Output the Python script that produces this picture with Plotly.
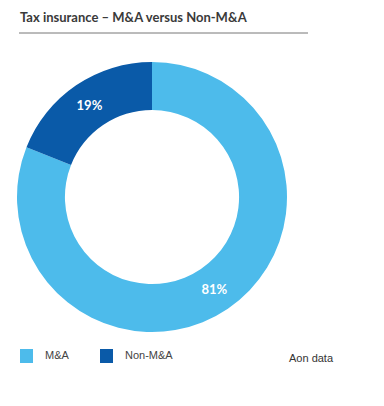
import plotly.graph_objects as go

categories = ["M&A", "Non-M&A"]
values = [81, 19]
colors = ["#4DBBEB", "#0A5AA8"]
title_text = "Tax insurance – M&A versus Non-M&A"
source_text = "Aon data"

W, H = 384, 406

def px_x(x):
    return x / W

def px_y(y):
    return 1 - y / H

fig = go.Figure(go.Pie(
    labels=categories,
    values=values,
    hole=0.645,
    sort=False,
    direction="clockwise",
    rotation=0,
    marker=dict(colors=colors, line=dict(width=0)),
    texttemplate="<b>%{value}%</b>",
    textposition="inside",
    insidetextorientation="horizontal",
    textfont=dict(family="Lato", size=13, color="white"),
    hoverinfo="label+percent",
    showlegend=False,
    domain=dict(x=[px_x(17), px_x(287)], y=[px_y(332), px_y(62)]),
))

annotations = [
    dict(text="<b>" + title_text + "</b>",
         x=px_x(18), y=px_y(17), xref="paper", yref="paper",
         xanchor="left", yanchor="middle", showarrow=False,
         font=dict(family="Lato", size=13, color="#3a3a3a")),
    dict(text=source_text,
         x=px_x(287), y=px_y(358), xref="paper", yref="paper",
         xanchor="left", yanchor="middle", showarrow=False,
         font=dict(family="Liberation Sans", size=11, color="#333")),
]
shapes = [
    dict(type="line", xref="paper", yref="paper",
         x0=px_x(19), x1=px_x(308), y0=px_y(33), y1=px_y(33),
         line=dict(color="#777", width=1)),
]

# manual legend built from the category / colour lists
legend_x0 = 20
legend_step = 80
for i, (cat, col) in enumerate(zip(categories, colors)):
    x0 = legend_x0 + i * legend_step
    shapes.append(dict(type="rect", xref="paper", yref="paper",
                       x0=px_x(x0), x1=px_x(x0 + 13),
                       y0=px_y(363), y1=px_y(349),
                       fillcolor=col, line=dict(width=0)))
    annotations.append(dict(text=cat, x=px_x(x0 + 23), y=px_y(355),
                            xref="paper", yref="paper",
                            xanchor="left", yanchor="middle", showarrow=False,
                            font=dict(family="Liberation Sans", size=11, color="#444")))

fig.update_layout(
    width=W, height=H,
    margin=dict(l=0, r=0, t=0, b=0),
    paper_bgcolor="white",
    plot_bgcolor="white",
    showlegend=False,
    annotations=annotations,
    shapes=shapes,
)

fig.write_html("out.html", config={"displayModeBar": False},
               post_script="document.body.style.margin='0';")
